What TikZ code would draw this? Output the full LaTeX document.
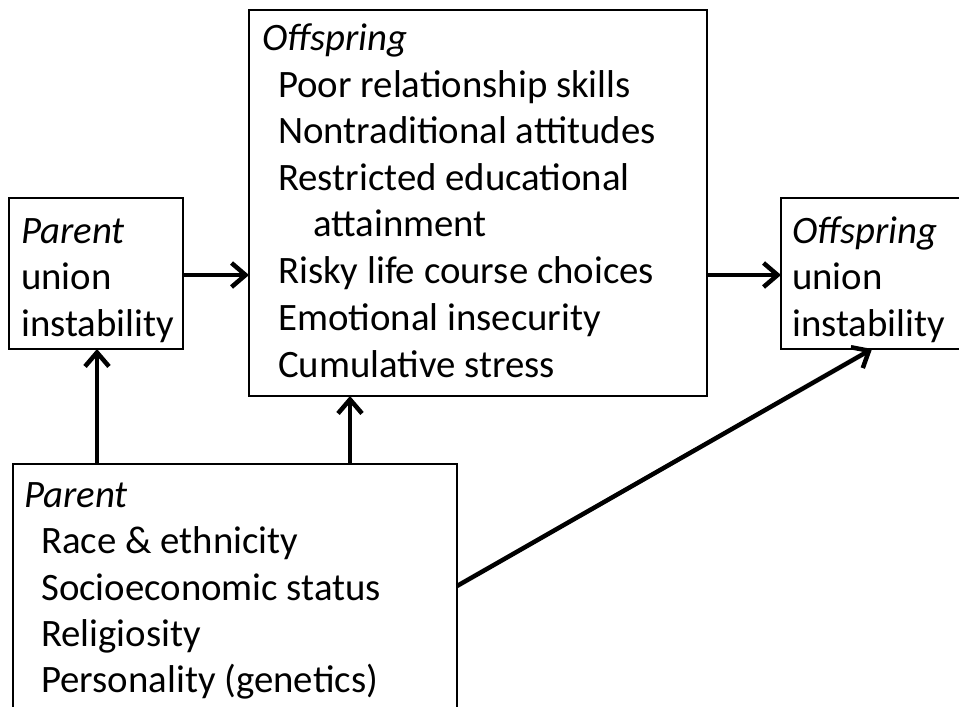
\documentclass[tikz,border=0pt]{standalone}
\usepackage{fontspec}
\setmainfont{Carlito}
\usetikzlibrary{arrows.meta}
\begin{document}
\begin{tikzpicture}[x=1pt,y=-1pt,
  box/.style={draw=black, line width=2.8pt, rectangle, inner sep=0pt, outer sep=0pt},
  txt/.style={anchor=base west, inner sep=0pt, font=\fontsize{38.8}{46}\selectfont},
  itxt/.style={txt, font=\fontsize{38.8}{46}\selectfont\itshape},
  conn/.style={line width=4.5pt, -{Straight Barb[length=14pt,width=24pt,line width=4.5pt]}}]
\useasboundingbox (0,0) rectangle (959,707);
% boxes
\node[box, minimum width=174pt, minimum height=151pt] (pu) at (96,273.5) {};
\node[box, minimum width=458pt, minimum height=386pt] (om) at (478,203) {};
\node[box, minimum width=200pt, minimum height=151pt, anchor=north west] (ou) at (781,198) {};
\node[box, minimum width=444pt, minimum height=300pt, anchor=north west] (pc) at (13,464) {};
% left box text
\node[itxt] (pu1) at (21,243) {Parent};
\node[txt] (pu2) at (21,289) {union};
\node[txt] (pu3) at (21,336) {instability};
% center box text
\node[itxt] (om1) at (262,50) {Offspring};
\node[txt] (om2) at (278,97) {Poor relationship skills};
\node[txt] (om3) at (278,143) {Nontraditional attitudes};
\node[txt] (om4) at (278,190) {Restricted educational};
\node[txt] (om5) at (313,236) {attainment};
\node[txt] (om6) at (278,283) {Risky life course choices};
\node[txt] (om7) at (278,330) {Emotional insecurity};
\node[txt] (om8) at (278,377) {Cumulative stress};
% right box text
\node[itxt] (ou1) at (792,243) {Offspring};
\node[txt] (ou2) at (792,289) {union};
\node[txt] (ou3) at (792,336) {instability};
% bottom box text
\node[itxt] (pc1) at (24,507) {Parent};
\node[txt] (pc2) at (41,553) {Race \& ethnicity};
\node[txt] (pc3) at (41,600) {Socioeconomic status};
\node[txt] (pc4) at (41,646) {Religiosity};
\node[txt] (pc5) at (41,692) {Personality (genetics)};
% connectors
\coordinate (a1) at (pu.east |- 0,275);
\coordinate (a2) at (om.west |- 0,275);
\draw[conn] (a1) -- (a2);
\coordinate (b1) at (om.east |- 0,275);
\coordinate (b2) at (ou.west |- 0,275);
\draw[conn] (b1) -- (b2);
\coordinate (c1) at (pc.north -| 97,0);
\coordinate (c2) at (pu.south -| 97,0);
\draw[conn] (c1) -- (c2);
\coordinate (d1) at (pc.north -| 350,0);
\coordinate (d2) at (om.south -| 350,0);
\draw[conn] (d1) -- (d2);
\coordinate (e1) at (pc.east |- 0,586);
\coordinate (e2) at (ou.south -| 872,0);
\draw[conn] (e1) -- (e2);
\end{tikzpicture}
\end{document}
